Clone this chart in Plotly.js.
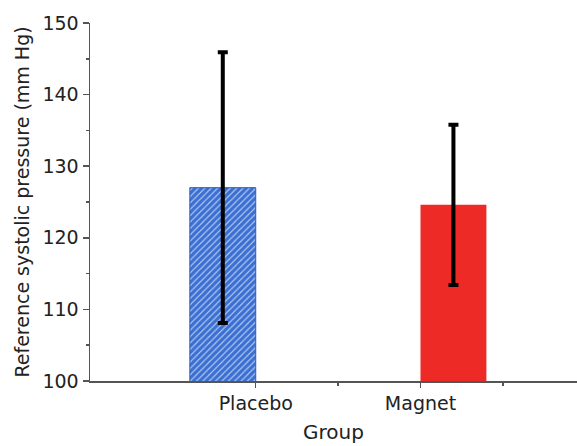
<!DOCTYPE html>
<html><head><meta charset="utf-8">
<script src="https://cdn.plot.ly/plotly-3.0.1.min.js"></script>
<style>html,body{margin:0;padding:0;background:#fff}</style>
</head><body>
<div id="chart" style="width:577px;height:446px"></div>
<script>
const categories = ['Placebo', 'Magnet'];
const means = [127.0, 124.6];
const errors = [18.9, 11.2];
const barColors = ['#3b6fd1', '#ee2a26'];

const xs = categories.map((_, i) => i);

const placebo = {
  type: 'bar', x: [xs[0]], y: [means[0]],
  width: 0.4, offset: -0.4,
  marker: {color: barColors[0], line: {color: '#2c5bb8', width: 1},
    pattern: {shape: '/', fgcolor: '#b9cff5', bgcolor: barColors[0], size: 4.5, solidity: 0.25}},
  error_y: {type: 'data', array: [errors[0]], visible: true, color: '#000', thickness: 4, width: 5},
  hoverinfo: 'skip', showlegend: false
};
const magnet = {
  type: 'bar', x: [xs[1]], y: [means[1]],
  width: 0.4, offset: 0,
  marker: {color: barColors[1], line: {width: 0}},
  error_y: {type: 'data', array: [errors[1]], visible: true, color: '#000', thickness: 4, width: 5},
  hoverinfo: 'skip', showlegend: false
};

const fontFam = 'DejaVu Sans, Arial, sans-serif';
const layout = {
  width: 577, height: 446,
  margin: {l: 90, r: 0, t: 23, b: 65},
  paper_bgcolor: '#fff', plot_bgcolor: '#fff',
  barmode: 'overlay',
  showlegend: false,
  xaxis: {
    range: [-1.006, 1.95], tickvals: xs, ticktext: categories,
    showline: true, linecolor: '#555', linewidth: 1.5, zeroline: false, showgrid: false,
    ticks: 'outside', ticklen: 5, tickcolor: '#555', tickwidth: 1.5,
    minor: {tickvals: [0.5, 1.5], ticks: 'outside', ticklen: 3, tickcolor: '#555', tickwidth: 1.5},
    tickfont: {family: fontFam, size: 19, color: '#222'},
    title: {text: 'Group', font: {family: fontFam, size: 20, color: '#222'}, standoff: 11}
  },
  yaxis: {
    range: [100, 150], tickvals: [100, 110, 120, 130, 140, 150],
    showline: true, linecolor: '#555', linewidth: 1.5, zeroline: false, showgrid: false,
    ticks: 'outside', ticklen: 6, tickcolor: '#555', tickwidth: 1.5,
    minor: {tickvals: [105, 115, 125, 135, 145], ticks: 'outside', ticklen: 3, tickcolor: '#555', tickwidth: 1.5},
    tickfont: {family: fontFam, size: 19, color: '#222'},
    title: {text: 'Reference systolic pressure (mm Hg)', font: {family: fontFam, size: 19, color: '#222'}, standoff: 8}
  }
};
Plotly.newPlot('chart', [placebo, magnet], layout, {displayModeBar: false, staticPlot: true});
</script>
</body></html>
